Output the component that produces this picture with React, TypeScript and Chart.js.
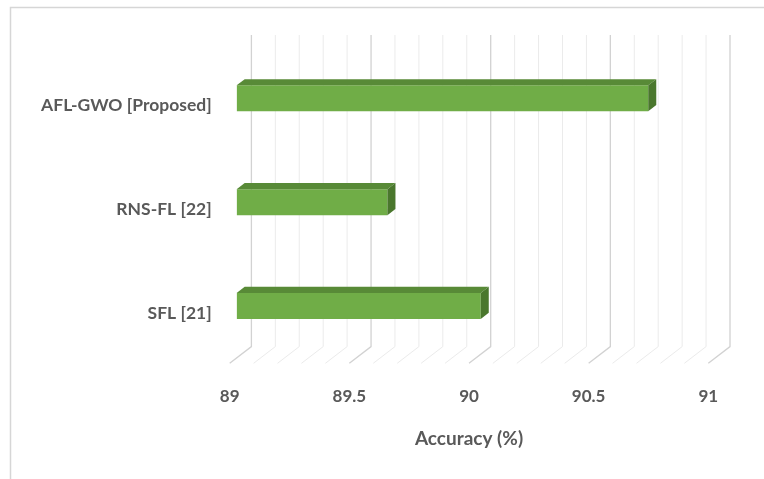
import React, { useEffect, useRef } from "react";
import { Chart, registerables } from "chart.js";

Chart.register(...registerables);

// Data
const categories = ["AFL-GWO [Proposed]", "RNS-FL [22]", "SFL [21]"];
const accuracy = [90.72, 89.63, 90.02];
const axisMin = 89;
const axisMax = 91;
const majorStep = 0.5;
const minorStep = 0.1;
const axisTitle = "Accuracy (%)";

// Oblique 3D geometry: offset from the floor's front edge to the back wall
const DEPTH_DX = 21.7;
const DEPTH_DY = -16.7;
const BAR_FRONT = 0.32; // depth fraction of bar front face
const BAR_BACK = 0.69; // depth fraction of bar back face

const FRONT_COLOR = "#70ad47";
const TOP_COLOR = "#588a37";
const SIDE_COLOR = "#4a772d";
const TEXT_COLOR = "#595959";
const FONT = "Lato, 'Open Sans', sans-serif";

const threeD = {
  id: "threeD",
  beforeDraw(chart: any) {
    const { ctx } = chart;
    ctx.save();
    ctx.fillStyle = "#ffffff";
    ctx.fillRect(0, 0, chart.width, chart.height);
    // chart frame
    ctx.strokeStyle = "#d6d6d6";
    ctx.lineWidth = 1.5;
    ctx.beginPath();
    ctx.moveTo(10.5, chart.height + 2);
    ctx.lineTo(10.5, 7.5);
    ctx.lineTo(chart.width + 2, 7.5);
    ctx.stroke();
    ctx.restore();
  },
  beforeDatasetsDraw(chart: any) {
    const { ctx, chartArea } = chart;
    const xs = chart.scales.x;
    const n = Math.round((axisMax - axisMin) / minorStep);
    ctx.save();
    for (let i = 0; i <= n; i++) {
      const v = axisMin + i * minorStep;
      const major = i % Math.round(majorStep / minorStep) === 0;
      const x = xs.getPixelForValue(v);
      ctx.strokeStyle = major ? "#d2d2d2" : "#ebebeb";
      ctx.lineWidth = major ? 1.3 : 1;
      ctx.beginPath();
      ctx.moveTo(x + DEPTH_DX, chartArea.top + DEPTH_DY);
      ctx.lineTo(x + DEPTH_DX, chartArea.bottom + DEPTH_DY);
      ctx.lineTo(x, chartArea.bottom);
      ctx.stroke();
    }
    ctx.restore();
    // shift bars' front faces into depth
    ctx.save();
    ctx.translate(DEPTH_DX * BAR_FRONT, DEPTH_DY * BAR_FRONT);
  },
  afterDatasetsDraw(chart: any) {
    const { ctx } = chart;
    ctx.restore();
    const meta = chart.getDatasetMeta(0);
    const fx = DEPTH_DX * BAR_FRONT;
    const fy = DEPTH_DY * BAR_FRONT;
    const dx = DEPTH_DX * (BAR_BACK - BAR_FRONT);
    const dy = DEPTH_DY * (BAR_BACK - BAR_FRONT);
    ctx.save();
    meta.data.forEach((bar: any) => {
      const x0 = Math.min(bar.x, bar.base) + fx;
      const x1 = Math.max(bar.x, bar.base) + fx;
      const yt = bar.y - bar.height / 2 + fy;
      const yb = bar.y + bar.height / 2 + fy;
      // top face
      ctx.fillStyle = TOP_COLOR;
      ctx.beginPath();
      ctx.moveTo(x0, yt);
      ctx.lineTo(x1, yt);
      ctx.lineTo(x1 + dx, yt + dy);
      ctx.lineTo(x0 + dx, yt + dy);
      ctx.closePath();
      ctx.fill();
      // side face
      ctx.fillStyle = SIDE_COLOR;
      ctx.beginPath();
      ctx.moveTo(x1, yt);
      ctx.lineTo(x1 + dx, yt + dy);
      ctx.lineTo(x1 + dx, yb + dy);
      ctx.lineTo(x1, yb);
      ctx.closePath();
      ctx.fill();
    });
    ctx.restore();
  },
};

export default function App() {
  const ref = useRef<HTMLCanvasElement>(null);

  useEffect(() => {
    if (!ref.current) return;
    const chart = new Chart(ref.current, {
      type: "bar",
      data: {
        labels: categories,
        datasets: [
          {
            data: accuracy,
            base: axisMin,
            backgroundColor: FRONT_COLOR,
            borderWidth: 0,
            barPercentage: 0.25,
            categoryPercentage: 1,
          },
        ],
      },
      options: {
        indexAxis: "y",
        responsive: false,
        animation: false,
        layout: { padding: { top: 51.7, right: 55.7, left: 0, bottom: 0 } },
        plugins: {
          legend: { display: false },
          tooltip: { enabled: false },
        },
        scales: {
          x: {
            min: axisMin,
            max: axisMax,
            border: { display: false },
            grid: { display: false, drawTicks: false },
            afterFit: (s: any) => {
              s.height = 115.7;
            },
            ticks: {
              stepSize: majorStep,
              padding: 23,
              color: TEXT_COLOR,
              font: { family: FONT, size: 17, weight: "bold" },
              callback: (v: any) => String(v),
            },
            title: {
              display: true,
              text: axisTitle,
              color: TEXT_COLOR,
              font: { family: FONT, size: 19, weight: "bold" },
              padding: { top: 0, bottom: 28.6 },
            },
          },
          y: {
            border: { display: false },
            grid: { display: false, drawTicks: false },
            afterFit: (s: any) => {
              s.width = 229.7;
            },
            ticks: {
              padding: 18,
              labelOffset: 1.5,
              color: TEXT_COLOR,
              font: { family: FONT, size: 17.5, weight: "bold" },
            },
          },
        },
      },
      plugins: [threeD],
    });
    return () => chart.destroy();
  }, []);

  return (
    <div style={{ position: "fixed", left: 0, top: 0, width: 764, height: 479, background: "#fff" }}>
      <canvas ref={ref} width={764} height={479} style={{ display: "block" }} />
    </div>
  );
}
